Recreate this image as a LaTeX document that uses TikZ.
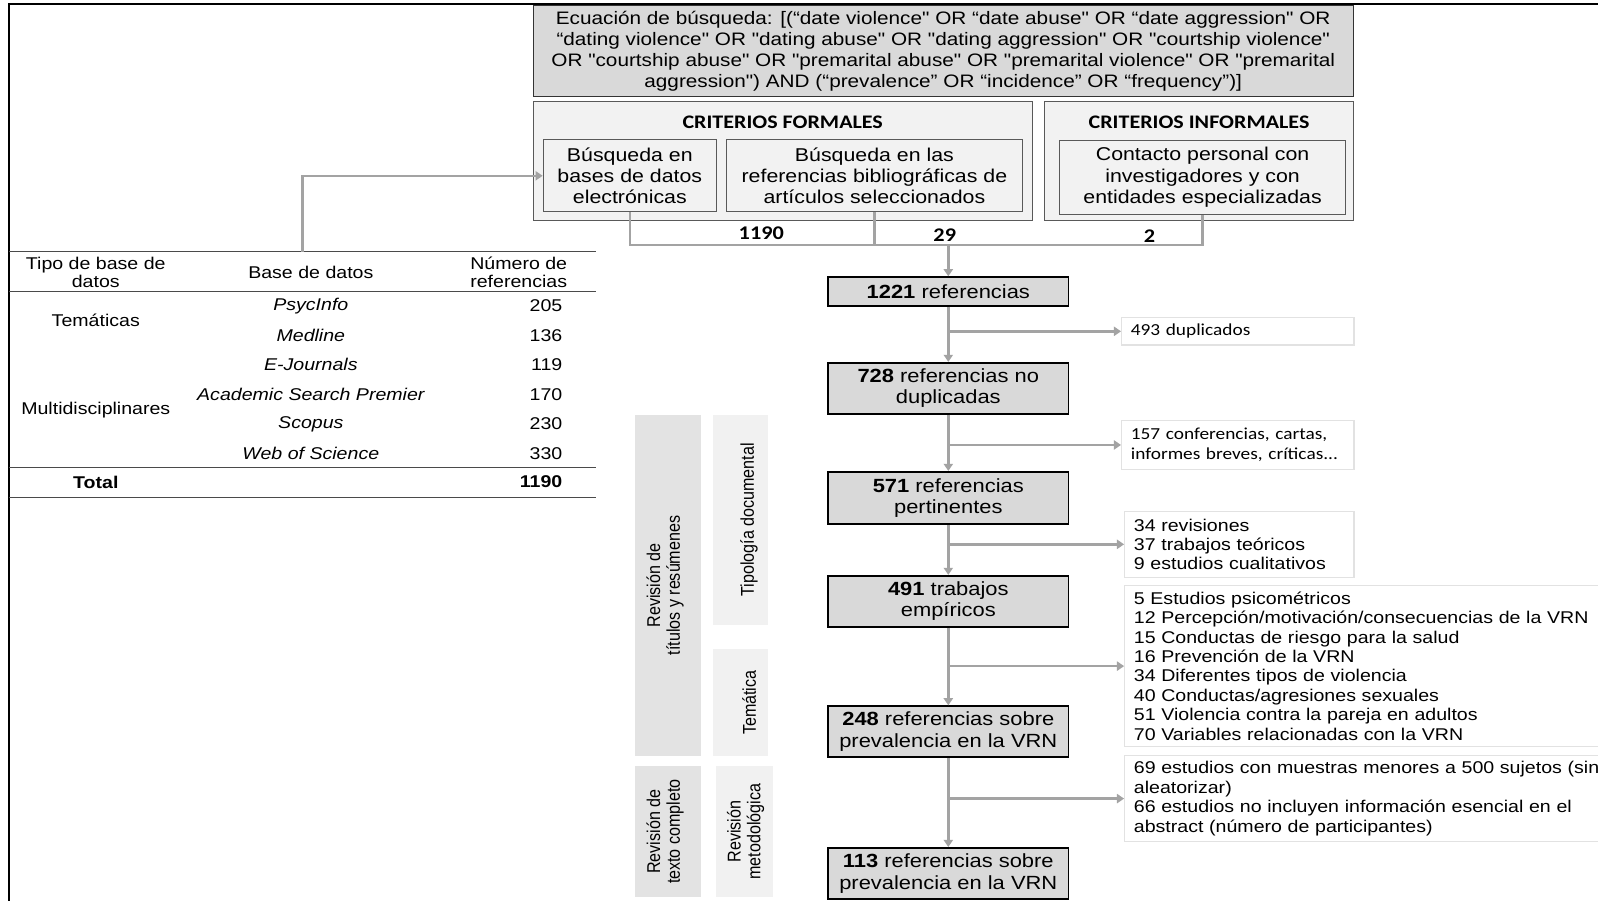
\documentclass[tikz,border=0pt]{standalone}
\usepackage{fontspec}
\usetikzlibrary{arrows.meta}
% Wide sans faces used throughout the chart
\newfontfamily\sw[FakeStretch=1.15]{Liberation Sans}
\newfontfamily\cw[FakeStretch=1.15]{Carlito}
\newfontfamily\sr{Liberation Sans}
\definecolor{boxgray}{HTML}{D9D9D9}
\definecolor{panel}{HTML}{F2F2F2}
\definecolor{linegray}{HTML}{A3A3A3}
\definecolor{sideedge}{HTML}{E2E2E2}
\definecolor{stagedark}{HTML}{E3E3E3}
\definecolor{stagelight}{HTML}{F1F1F1}
\definecolor{rulegray}{HTML}{4A4A4A}

\begin{document}
\begin{tikzpicture}[x=1pt,y=-1pt,
  conn/.style={draw=linegray, line width=2.4pt, -{Triangle[length=7pt,width=9pt]}},
  busline/.style={draw=linegray, line width=2.4pt},
  eqbox/.style={draw=black!80, line width=1pt, fill=boxgray, inner sep=0pt,
    minimum width=805pt, minimum height=90pt, align=center,
    font=\sw\fontsize{17.7}{20.5}\selectfont},
  panelbox/.style={draw=black!65, line width=1pt, fill=panel, inner sep=0pt},
  innerbox/.style={draw=black!65, line width=1pt, fill=panel, inner sep=0pt,
    align=center, font=\sw\fontsize{18.2}{21}\selectfont},
  paneltitle/.style={font=\cw\bfseries\fontsize{18.8}{20}\selectfont},
  count/.style={font=\cw\bfseries\fontsize{19}{20}\selectfont},
  flowbox/.style={draw=black, line width=1.8pt, fill=boxgray, inner sep=0pt,
    minimum width=236pt, align=center, font=\sw\fontsize{18.7}{21}\selectfont},
  sidebox/.style={draw=sideedge, line width=1.2pt, fill=white, inner xsep=9pt,
    inner ysep=0pt, align=left, anchor=north west},
  calib/.style={font=\cw\fontsize{16.5}{19}\selectfont},
  arial/.style={font=\sw\fontsize{16.7}{19}\selectfont},
  tab/.style={font=\sw\fontsize{16.7}{18}\selectfont, align=center, inner sep=0pt},
  tabrule/.style={draw=rulegray, line width=1.3pt},
  stage/.style={draw=none, inner sep=0pt},
  vlab/.style={rotate=90, inner sep=0pt, font=\sr\fontsize{15.8}{17}\selectfont}
]
\useasboundingbox (0,0) rectangle (1568,884);

% outer frame
\draw[line width=1.5pt] (9,884) -- (9,4) -- (1568,4);

% search equation
\node[eqbox] (eq) at (925.5,50) {Ecuación de búsqueda: [(“date violence" OR “date abuse" OR “date aggression" OR\\
“dating violence" OR "dating abuse" OR "dating aggression" OR "courtship violence"\\
OR "courtship abuse" OR "premarital abuse" OR "premarital violence" OR "premarital\\
aggression") AND (“prevalence” OR “incidence” OR “frequency”)]};

% formal / informal criteria
\node[panelbox, minimum width=490pt, minimum height=116pt] (formal) at (768,158) {};
\node[paneltitle] (formaltitle) at (768,120) {CRITERIOS FORMALES};
\node[innerbox, minimum width=170pt, minimum height=71pt] (b1) at (618,172.5) {Búsqueda en\\bases de datos\\electrónicas};
\node[innerbox, minimum width=290pt, minimum height=71pt] (b2) at (858,172.5) {Búsqueda en las\\referencias bibliográficas de\\artículos seleccionados};

\node[panelbox, minimum width=303pt, minimum height=116pt] (informal) at (1176.5,158) {};
\node[paneltitle] (informaltitle) at (1176.5,120) {CRITERIOS INFORMALES};
\node[innerbox, minimum width=280pt, minimum height=72pt] (b3) at (1180,174) {Contacto personal con\\investigadores y con\\entidades especializadas};

% collecting the three sources
\draw[busline] (b1.south) -- ++(0,32) -| (b3.south);
\draw[busline] (b2.south) -- ++(0,32);
\node[count] (c1190) at (747,229) {1190};
\node[count] (c29) at (927,231) {29};
\node[count] (c2) at (1128,232) {2};

% flow of references
\node[flowbox, minimum height=28pt] (n1221) at (930.5,286) {\textbf{1221} referencias};
\node[flowbox, minimum height=50pt] (n728) at (930.5,381) {\textbf{728} referencias no\\duplicadas};
\node[flowbox, minimum height=51pt] (n571) at (930.5,488.5) {\textbf{571} referencias\\pertinentes};
\node[flowbox, minimum height=50pt] (n491) at (930.5,590) {\textbf{491} trabajos\\empíricos};
\node[flowbox, minimum height=50pt] (n248) at (930.5,718) {\textbf{248} referencias sobre\\prevalencia en la VRN};
\node[flowbox, minimum height=50pt] (n113) at (930.5,857) {\textbf{113} referencias sobre\\prevalencia en la VRN};

\coordinate (join) at (930.5,240);
\draw[conn] (join) -- (n1221.north);
\draw[conn] (n1221.south) -- (n728.north);
\draw[conn] (n728.south) -- (n571.north);
\draw[conn] (n571.south) -- (n491.north);
\draw[conn] (n491.south) -- (n248.north);
\draw[conn] (n248.south) -- (n113.north);

% excluded references
\node[sidebox, calib, text width=210pt, minimum height=27pt] (s1) at (1100,311) {493 duplicados};
\node[sidebox, calib, text width=210pt, minimum height=48pt] (s2) at (1100,412) {157 conferencias, cartas,\\informes breves, críticas...};
\node[sidebox, arial, text width=207pt, minimum height=65pt] (s3) at (1103,501) {34 revisiones\\37 trabajos teóricos\\9 estudios cualitativos};
\node[sidebox, arial, text width=520pt, minimum height=158pt] (s4) at (1103,574) {5 Estudios psicométricos\\12 Percepción/motivación/consecuencias de la VRN\\15 Conductas de riesgo para la salud\\16 Prevención de la VRN\\34 Diferentes tipos de violencia\\40 Conductas/agresiones sexuales\\51 Violencia contra la pareja en adultos\\70 Variables relacionadas con la VRN};
\node[sidebox, arial, text width=520pt, minimum height=84pt] (s5) at (1103,741) {69 estudios con muestras menores a 500 sujetos (sin\\aleatorizar)\\66 estudios no incluyen información esencial en el\\abstract (número de participantes)};

\draw[conn] (n1221.south |- s1.west) -- (s1.west);
\draw[conn] (n728.south |- s2.west) -- (s2.west);
\draw[conn] (n571.south |- s3.west) -- (s3.west);
\draw[conn] (n491.south |- s4.west) -- (s4.west);
\draw[conn] (n248.south |- s5.west) -- (s5.west);

% review stages
\node[stage, fill=stagedark, minimum width=65pt, minimum height=335pt] (st1) at (655.5,574.5) {};
\node[stage, fill=stagelight, minimum width=54pt, minimum height=206pt] (st2) at (727,510) {};
\node[stage, fill=stagelight, minimum width=54pt, minimum height=105pt] (st3) at (727,689.5) {};
\node[stage, fill=stagedark, minimum width=65pt, minimum height=128pt] (st4) at (655.5,816) {};
\node[stage, fill=stagelight, minimum width=55pt, minimum height=128pt] (st5) at (730.5,816) {};
\node[vlab] (st1l) at ([xshift=-2pt]st1.center) {\scalebox{1}[1.15]{\begin{tabular}{@{}c@{}}Revisión de\\títulos y resúmenes\end{tabular}}};
\node[vlab] (st2l) at ([xshift=8pt]st2.center) {\scalebox{1}[1.15]{Tipología documental}};
\node[vlab] (st3l) at ([xshift=8pt]st3.center) {\scalebox{1}[1.15]{Temática}};
\node[vlab] (st4l) at ([xshift=-2pt]st4.center) {\scalebox{1}[1.15]{\begin{tabular}{@{}c@{}}Revisión de\\texto completo\end{tabular}}};
\node[vlab] (st5l) at ([xshift=2pt]st5.center) {\scalebox{1}[1.15]{\begin{tabular}{@{}c@{}}Revisión\\metodológica\end{tabular}}};

% database table
\draw[tabrule] (9,247) -- (585,247);
\draw[tabrule] (9,286) -- (585,286);
\draw[tabrule] (9,459) -- (585,459);
\draw[tabrule] (9,488) -- (585,488);
\node[tab] (h1) at (94,267) {Tipo de base de\\datos};
\node[tab] (h2) at (305,267) {Base de datos};
\node[tab] (h3) at (509,267) {Número de\\referencias};
\node[tab] (g1) at (94,314) {Temáticas};
\node[tab] (g2) at (94,402) {Multidisciplinares};
\node[tab, font=\sw\itshape\fontsize{16.7}{18}\selectfont] (d1) at (305,300) {PsycInfo};
\node[tab, font=\sw\itshape\fontsize{16.7}{18}\selectfont] (d2) at (305,329) {Medline};
\node[tab, font=\sw\itshape\fontsize{16.7}{18}\selectfont] (d3) at (305,358) {E-Journals};
\node[tab, font=\sw\itshape\fontsize{16.7}{18}\selectfont] (d4) at (305,387) {Academic Search Premier};
\node[tab, font=\sw\itshape\fontsize{16.7}{18}\selectfont] (d5) at (305,416) {Scopus};
\node[tab, font=\sw\itshape\fontsize{16.7}{18}\selectfont] (d6) at (305,445) {Web of Science};
\node[tab, anchor=east] (v1) at (552,300) {205};
\node[tab, anchor=east] (v2) at (552,329) {136};
\node[tab, anchor=east] (v3) at (552,358) {119};
\node[tab, anchor=east] (v4) at (552,387) {170};
\node[tab, anchor=east] (v5) at (552,416) {230};
\node[tab, anchor=east] (v6) at (552,445) {330};
\node[tab, font=\sw\bfseries\fontsize{16.7}{18}\selectfont] (tot) at (94,473) {Total};
\node[tab, anchor=east, font=\sw\bfseries\fontsize{16.7}{18}\selectfont] (totv) at (552,473) {1190};

% database search feeds the electronic search box
\coordinate (tabtop) at (297,247);
\draw[conn] (tabtop) |- (b1.west);
\end{tikzpicture}
\end{document}
